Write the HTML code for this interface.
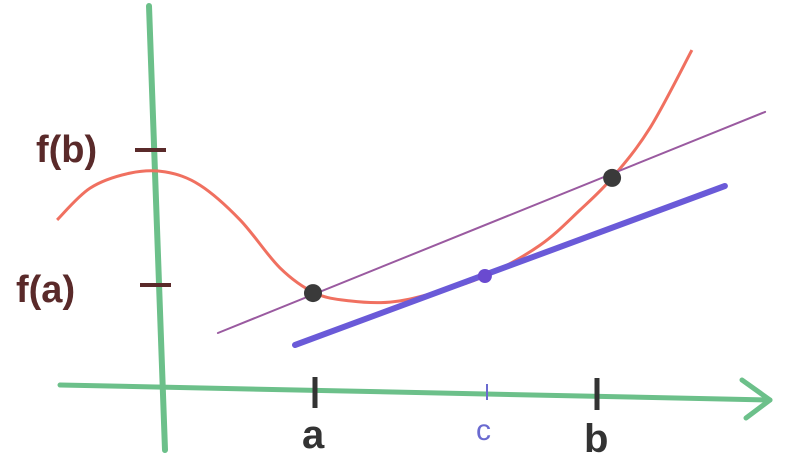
<!DOCTYPE html>
<html><head><meta charset="utf-8"><style>
html,body{margin:0;padding:0;background:#fff;}
svg{display:block;}
text{font-family:"Liberation Sans",sans-serif;}
</style></head><body>
<svg id="chart" width="804" height="476" viewBox="0 0 804 476" xmlns="http://www.w3.org/2000/svg">
<g>
<path d="M60,385 Q400,392 770,400" stroke="#6cc08a" stroke-width="5" fill="none" stroke-linecap="round"/>
<path d="M742,380 L770,400 L746,418" stroke="#6cc08a" stroke-width="5" fill="none" stroke-linecap="round" stroke-linejoin="round"/>
</g>
<g>
<path d="M149,6 Q155,200 165,450" stroke="#6cc08a" stroke-width="6" fill="none" stroke-linecap="round"/>
</g>
<g id="marks"></g>
<g><path d="M135,150 L166,150" stroke="#5a2a2a" stroke-width="4"/></g>
<g><path d="M140,285 L171,285" stroke="#5a2a2a" stroke-width="4"/></g>
<text x="36" y="162" font-size="38" font-weight="bold" fill="#5a2a2a">f(b)</text>
<text x="16" y="302" font-size="38" font-weight="bold" fill="#5a2a2a">f(a)</text>
<g><path d="M315,377 L315,408" stroke="#333" stroke-width="5"/></g>
<g><path d="M487,384 L487,400" stroke="#6a6ad0" stroke-width="2"/></g>
<g><path d="M597,378 L597,410" stroke="#333" stroke-width="5"/></g>
<text x="302" y="448" font-size="40" font-weight="bold" fill="#333">a</text>
<text x="476" y="440" font-size="30" fill="#6a6ad0">c</text>
<text x="584" y="452" font-size="40" font-weight="bold" fill="#333">b</text>
</svg>
<script>
const curveX=[-3.43,-2.33,-1,0.17,1.33,2.67,4,5.17,6.33,7.67,9,10.83,12.67,14,15.07,16.33,17.73];
const curveY=[5.67,6.73,7.23,7.27,6.83,5.67,4.07,3.23,2.97,2.93,3.2,3.8,4.83,6,7.07,8.73,11.33];
const secantX=[1.93,20.17];
const secantY=[1.9,9.27];
const tangentX=[4.5,18.83];
const tangentY=[1.5,6.8];
const pointX=[5.1,15.07,10.83];
const pointY=[3.23,7.07,3.8];
const pointNames=['point-a','point-b','point-c'];
const xs=v=>160+v*30;
const ys=v=>390-v*30;
const NS='http://www.w3.org/2000/svg';
const g=document.getElementById('marks');
function line(xa,ya,color,w,name){
  const p=document.createElementNS(NS,'path');
  p.setAttribute('d','M'+xs(xa[0])+','+ys(ya[0])+' L'+xs(xa[1])+','+ys(ya[1]));
  p.setAttribute('stroke',color);p.setAttribute('stroke-width',w);p.setAttribute('fill','none');p.setAttribute('stroke-linecap','round');
  
  
  g.appendChild(p);
}
const P=curveX.map((x,i)=>[xs(x),ys(curveY[i])]);
let d='M'+P[0][0]+','+P[0][1];
for(let i=0;i<P.length-1;i++){
  const p0=P[Math.max(0,i-1)],p1=P[i],p2=P[i+1],p3=P[Math.min(P.length-1,i+2)];
  const c1=[p1[0]+(p2[0]-p0[0])/6,p1[1]+(p2[1]-p0[1])/6];
  const c2=[p2[0]-(p3[0]-p1[0])/6,p2[1]-(p3[1]-p1[1])/6];
  d+=' C'+c1[0]+','+c1[1]+' '+c2[0]+','+c2[1]+' '+p2[0]+','+p2[1];
}
const c=document.createElementNS(NS,'path');
c.setAttribute('d',d);c.setAttribute('stroke','#f07060');c.setAttribute('stroke-width','3');c.setAttribute('fill','none');


g.appendChild(c);
line(secantX,secantY,'#9a5aa0',2,'secant-line');
line(tangentX,tangentY,'#6a5ad8',6,'tangent-line');
pointX.forEach((x,i)=>{
  const e=document.createElementNS(NS,'circle');
  e.setAttribute('cx',xs(x));e.setAttribute('cy',ys(pointY[i]));
  e.setAttribute('r',i==2?7:9);
  e.setAttribute('fill',i==2?'#6a4ad0':'#3a3a3a');
  
  
  g.appendChild(e);
});
</script>
</body></html>
